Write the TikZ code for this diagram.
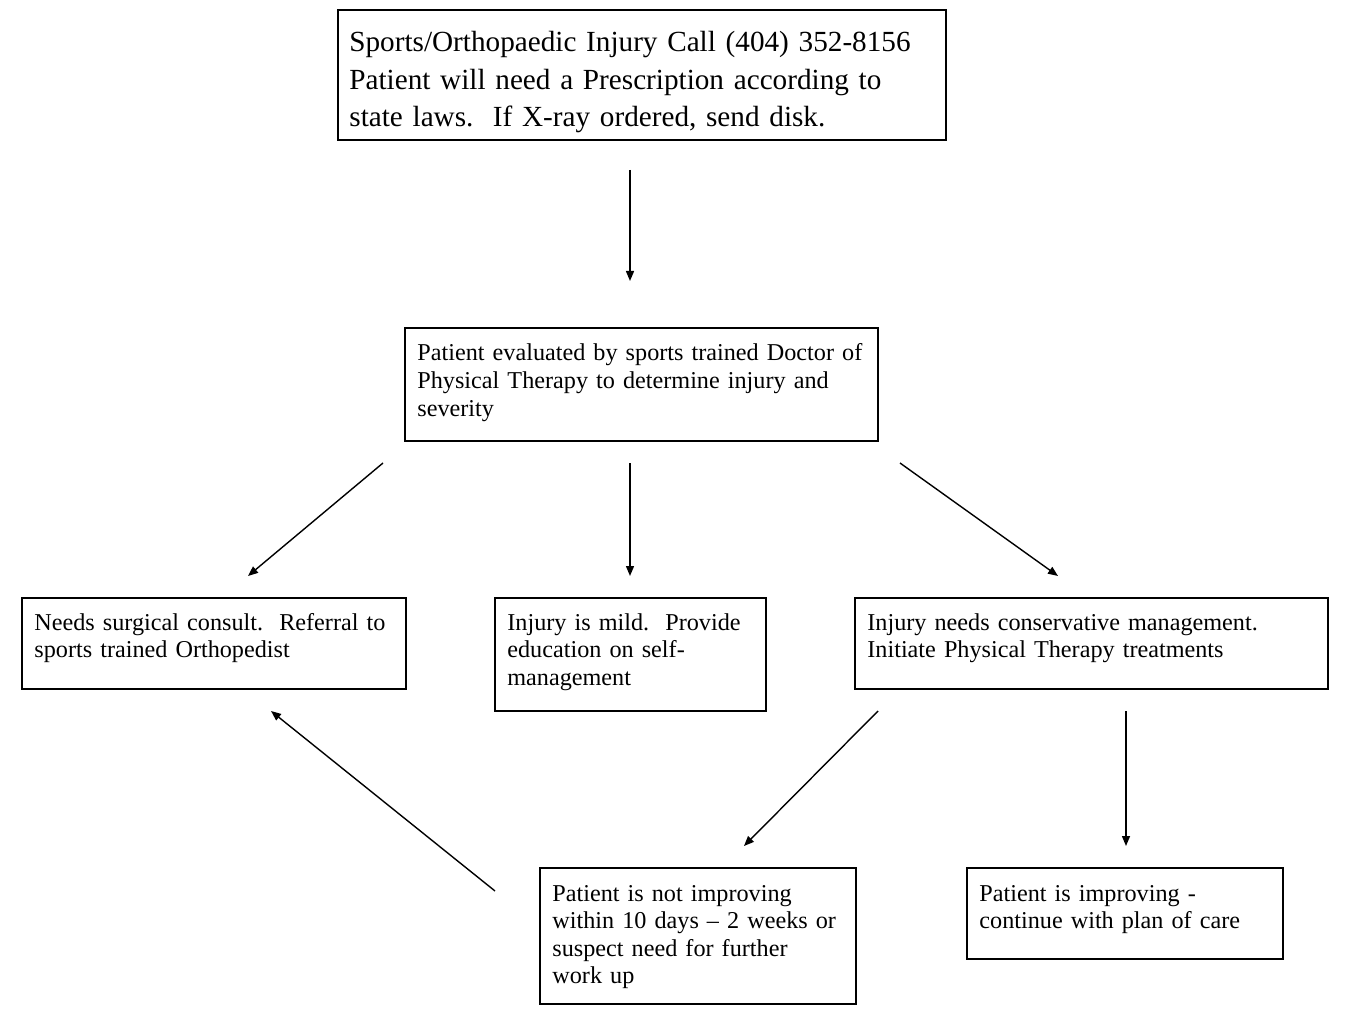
\documentclass[tikz,border=0pt]{standalone}
\usepackage{fontspec}
\setmainfont{Liberation Serif}
\usetikzlibrary{arrows.meta}
\begin{document}
\begin{tikzpicture}[x=0.5pt,y=-0.5pt,
  boxnode/.style={draw, line width=1pt, inner sep=0pt, outer sep=0pt},
  txtsmall/.style={anchor=base west, inner sep=0pt, text width=300pt, align=left,
    font=\fontsize{12.1}{13.8}\selectfont},
  txtbig/.style={anchor=base west, inner sep=0pt, text width=400pt, align=left,
    font=\fontsize{14.6}{18.75}\selectfont},
  arr/.style={-{Triangle[length=5pt,width=4pt]}, line width=0.7pt}]
\useasboundingbox (0,0) rectangle (1350,1016);
% boxes
\node[boxnode, minimum width=304pt, minimum height=65pt] (top) at (642,75) {};
\node[boxnode, minimum width=236.5pt, minimum height=56.5pt] (mid) at (641.5,384.5) {};
\node[boxnode, minimum width=192pt, minimum height=45.5pt] (left) at (214,643.5) {};
\node[boxnode, minimum width=135.5pt, minimum height=56.5pt] (center) at (630.5,654.5) {};
\node[boxnode, minimum width=236.5pt, minimum height=45.5pt] (right) at (1091.5,643.5) {};
\node[boxnode, minimum width=158pt, minimum height=68pt] (bm) at (698,936) {};
\node[boxnode, minimum width=158pt, minimum height=45.5pt] (br) at (1125,913.5) {};
% texts
\node[txtbig] (ttop) at (349,52) {Sports/Orthopaedic Injury Call (404) 352-8156\\Patient will need a Prescription according to\\state laws.\ \ If X-ray ordered, send disk.};
\node[txtsmall] (tmid) at (417,361) {Patient evaluated by sports trained Doctor of\\Physical Therapy to determine injury and\\severity};
\node[txtsmall] (tleft) at (34,630) {Needs surgical consult.\ \ Referral to\\sports trained Orthopedist};
\node[txtsmall] (tcenter) at (507,630) {Injury is mild.\ \ Provide\\education on self-\\management};
\node[txtsmall] (tright) at (867,630) {Injury needs conservative management.\\Initiate Physical Therapy treatments};
\node[txtsmall] (tbm) at (552,901) {Patient is not improving\\within 10 days -- 2 weeks or\\suspect need for further\\work up};
\node[txtsmall] (tbr) at (979,901) {Patient is improving -\\continue with plan of care};
% connector end points
\coordinate (a1s) at (630,170); \coordinate (a1e) at (630,281);
\coordinate (a2s) at (383,463); \coordinate (a2e) at (248,576);
\coordinate (a3s) at (630,463); \coordinate (a3e) at (630,576);
\coordinate (a4s) at (900,463); \coordinate (a4e) at (1058,576);
\coordinate (a5s) at (878,711); \coordinate (a5e) at (744,846);
\coordinate (a6s) at (1126,711); \coordinate (a6e) at (1126,846);
\coordinate (a7s) at (495,891); \coordinate (a7e) at (271,711);
\draw[arr] (a1s) -- (a1e);
\draw[arr] (a2s) -- (a2e);
\draw[arr] (a3s) -- (a3e);
\draw[arr] (a4s) -- (a4e);
\draw[arr] (a5s) -- (a5e);
\draw[arr] (a6s) -- (a6e);
\draw[arr] (a7s) -- (a7e);
\end{tikzpicture}
\end{document}
